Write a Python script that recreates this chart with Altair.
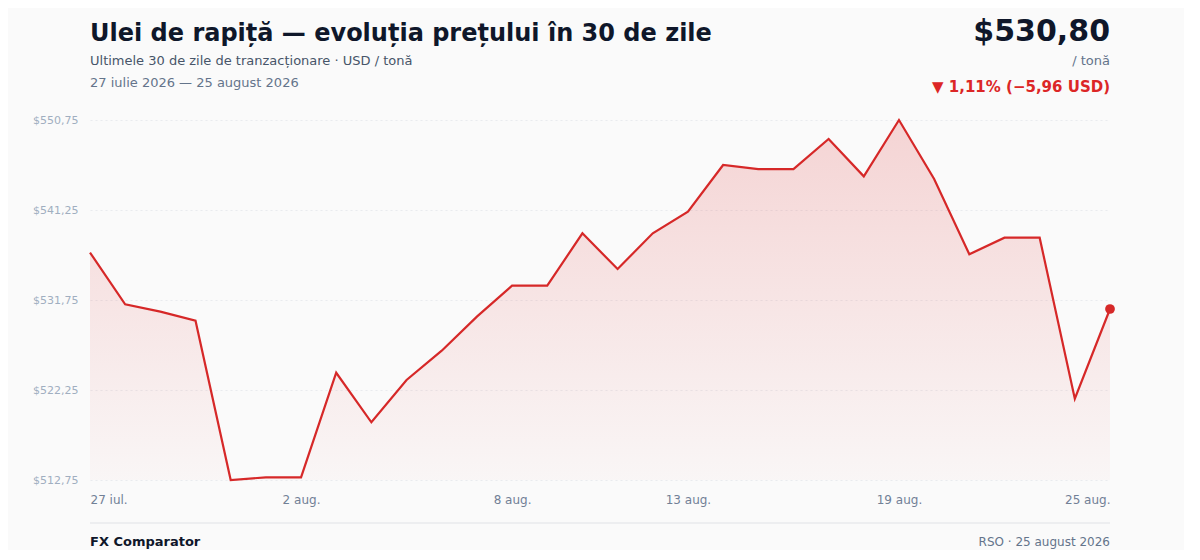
import altair as alt
import pandas as pd

# ---- data ----
dates = [d.strftime("%Y-%m-%d") for d in pd.date_range("2026-07-27", "2026-08-25", freq="D")]
prices = [536.76, 531.29, 530.52, 529.57, 512.75, 513.03, 513.03, 524.07, 518.84, 523.31,
          526.40, 529.99, 533.26, 533.26, 538.79, 535.02, 538.79, 541.07, 546.00, 545.56,
          545.56, 548.75, 544.80, 550.75, 544.52, 536.57, 538.33, 538.33, 521.33, 530.80]
y_ticks = [512.75, 522.25, 531.75, 541.25, 550.75]
x_tick_dates = [(2026, 7, 27), (2026, 8, 2), (2026, 8, 8), (2026, 8, 13), (2026, 8, 19), (2026, 8, 25)]

title = "Ulei de rapiță — evoluția prețului în 30 de zile"
subtitle = "Ultimele 30 de zile de tranzacționare · USD / tonă"
date_range = "27 iulie 2026 — 25 august 2026"
price_txt = "$530,80"
unit_txt = "/ tonă"
change_txt = "▼ 1,11% (−5,96 USD)"
footer_left = "FX Comparator"
footer_right = "RSO · 25 august 2026"

df = pd.DataFrame({"date": dates, "price": prices})
last = df.tail(1)

RED = "#d62828"
FONT = "DejaVu Sans"
W, H = 1020, 360

x_scale = alt.Scale(type="utc", nice=False, padding=0)
x_enc = alt.X(
    "date:T",
    scale=x_scale,
    axis=alt.Axis(
        values=[alt.DateTime(year=y, month=m, date=d, utc=True) for (y, m, d) in x_tick_dates],
        labelExpr="utcdate(datum.value) + ' ' + (utcmonth(datum.value) == 6 ? 'iul.' : 'aug.')",
        labelFlush=True,
        labelColor="#718096",
        labelFontSize=12,
        labelPadding=14,
        ticks=False,
        tickSize=0,
        domain=False,
        grid=False,
        title=None,
    ),
)
y_scale = alt.Scale(domain=[y_ticks[0], y_ticks[-1]], zero=False, nice=False)
y_enc = alt.Y(
    "price:Q",
    scale=y_scale,
    stack=None,
    axis=alt.Axis(
        values=y_ticks,
        labelExpr="'$' + replace(format(datum.value, '.2f'), '.', ',')",
        labelColor="#a0aec0",
        labelFontSize=11,
        labelPadding=12,
        ticks=False,
        tickSize=0,
        domain=False,
        grid=True,
        gridColor="#e9ebee",
        gridDash=[2, 3],
        gridWidth=1,
        title=None,
    ),
)

base = alt.Chart(df)

area = base.mark_area(
    line=False,
    color=alt.Gradient(
        gradient="linear",
        stops=[
            alt.GradientStop(color="rgba(220,38,38,0.18)", offset=0),
            alt.GradientStop(color="rgba(220,38,38,0.02)", offset=1),
        ],
        x1=1, x2=1, y1=0, y2=1,
    ),
).encode(x=x_enc, y=y_enc, y2=alt.value(H))

line = base.mark_line(color=RED, strokeWidth=2.2, strokeJoin="miter").encode(
    x=alt.X("date:T", scale=x_scale),
    y=alt.Y("price:Q", scale=y_scale),
)

dot = alt.Chart(last).mark_circle(color=RED, size=95, opacity=1).encode(
    x=alt.X("date:T", scale=x_scale),
    y=alt.Y("price:Q", scale=y_scale),
)


def label(text, x, y, size, color, weight="normal", align="left"):
    return alt.Chart(pd.DataFrame({"t": [text]})).mark_text(
        align=align, baseline="middle", font=FONT, fontSize=size,
        fontWeight=weight, color=color,
    ).encode(x=alt.value(x), y=alt.value(y), text="t:N")


texts = [
    label(title, 0, -86, 24, "#0f172a", "bold"),
    label(subtitle, 0, -59, 13, "#475569"),
    label(date_range, 0, -37, 13, "#64748b"),
    label(price_txt, W, -88, 30, "#0f172a", "bold", "right"),
    label(unit_txt, W, -59, 13, "#64748b", "normal", "right"),
    label(change_txt, W, -33, 15, "#dc2626", "bold", "right"),
    label(footer_left, 0, 422, 13, "#0f172a", "bold"),
    label(footer_right, W, 422, 12, "#64748b", "normal", "right"),
]

sep = alt.Chart(pd.DataFrame({"a": [0]})).mark_rule(color="#e8eaed", strokeWidth=1.5).encode(
    x=alt.value(0), x2=alt.value(W), y=alt.value(403)
)

chart = alt.layer(area, line, dot, sep, *texts).properties(
    width=W,
    height=H,
    autosize=alt.AutoSizeParams(type="none"),
    padding={"left": 82, "top": 112, "right": 74, "bottom": 70},
    background="#fafafa",
).configure(font=FONT).configure_view(strokeWidth=0, stroke="transparent")

chart.save("out.html", embed_options={"renderer": "svg", "actions": False})
